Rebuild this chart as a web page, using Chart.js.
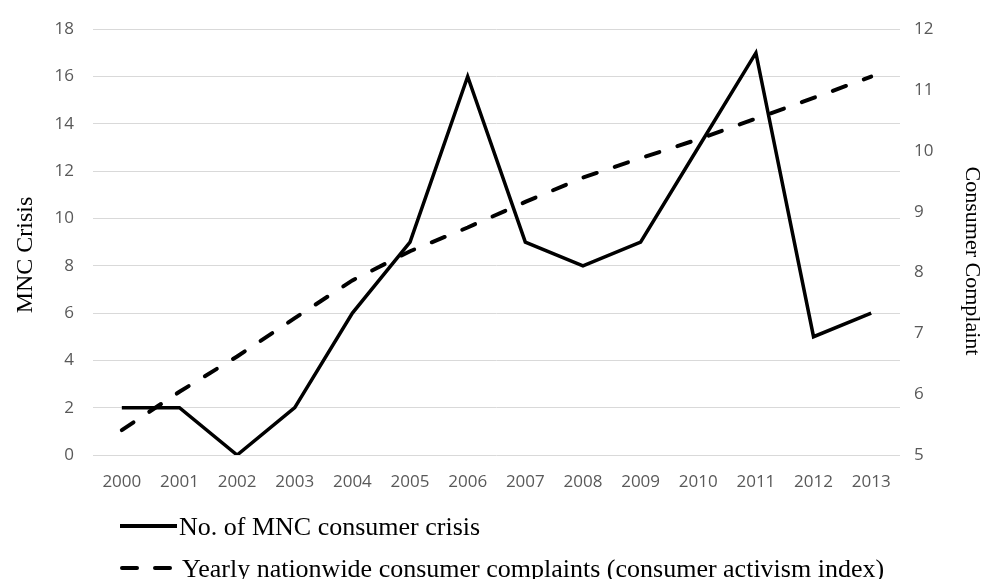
<!DOCTYPE html>
<html>
<head>
<meta charset="utf-8">
<script src="https://cdn.jsdelivr.net/npm/chart.js@4.4.1/dist/chart.umd.min.js"></script>
<style>
  html, body { margin: 0; padding: 0; background: #fff; }
  canvas { display: block; }
</style>
</head>
<body>
<canvas id="crisisChart" width="984" height="579"></canvas>
<script>
// Chart data
const years = ['2000', '2001', '2002', '2003', '2004', '2005', '2006', '2007', '2008', '2009', '2010', '2011', '2012', '2013'];
const mncCrisis = [2, 2, 0, 2, 6, 9, 16, 9, 8, 9, 13, 17, 5, 6];
const consumerComplaints = [5.41, 6.04, 6.62, 7.25, 7.87, 8.35, 8.74, 9.16, 9.56, 9.88, 10.19, 10.53, 10.87, 11.22];
const leftTicks = [0, 2, 4, 6, 8, 10, 12, 14, 16, 18];
const rightTicks = [5, 6, 7, 8, 9, 10, 11, 12];

const seriesLabels = ['No. of MNC consumer crisis', 'Yearly nationwide consumer complaints (consumer activism index)'];
const leftTitle = 'MNC Crisis';
const rightTitle = 'Consumer Complaint';

const TICK_FONT = { family: "'Open Sans', sans-serif", size: 17 };
const TICK_COLOR = '#595959';
const GRID_COLOR = '#d9d9d9';
const SERIF = '"Liberation Serif", "Times New Roman", serif';

// axis titles drawn by hand so they can sit where Excel put them
const axisTitles = {
    id: 'axisTitles',
    afterDraw(chart) {
        const ctx = chart.ctx;
        ctx.save();
        ctx.fillStyle = '#000';
        ctx.textAlign = 'center';
        ctx.textBaseline = 'alphabetic';

        ctx.save();
        ctx.font = '24px ' + SERIF;
        ctx.translate(32, 255);
        ctx.rotate(-Math.PI / 2);
        ctx.fillText(leftTitle, 0, 0);
        ctx.restore();

        ctx.save();
        ctx.font = '22px ' + SERIF;
        ctx.translate(966, 261);
        ctx.rotate(Math.PI / 2);
        ctx.fillText(rightTitle, 0, 0);
        ctx.restore();
        ctx.restore();
    }
};

// legend under the chart, one series per row
const bottomLegend = {
    id: 'bottomLegend',
    afterDraw(chart) {
        const ctx = chart.ctx;
        const rows = [526, 568];
        chart.data.datasets.forEach((ds, i) => {
            const y = rows[i];
            ctx.save();
            ctx.strokeStyle = ds.borderColor;
            ctx.lineWidth = 4;
            ctx.beginPath();
            if (ds.borderDash && ds.borderDash.length) {
                ctx.lineCap = 'round';
                ctx.setLineDash([15, 18]);
                ctx.moveTo(122, y);
                ctx.lineTo(170, y);
            } else {
                ctx.lineCap = 'butt';
                ctx.moveTo(120, y);
                ctx.lineTo(177, y);
            }
            ctx.stroke();
            ctx.setLineDash([]);
            ctx.font = '26px ' + SERIF;
            ctx.fillStyle = '#000';
            ctx.textBaseline = 'alphabetic';
            ctx.fillText(ds.label, i === 0 ? 179 : 182, y + 9);
            ctx.restore();
        });
    }
};

const ctx = document.getElementById('crisisChart').getContext('2d');
new Chart(ctx, {
    type: 'line',
    data: {
        labels: years,
        datasets: [
            {
                label: seriesLabels[0],
                data: mncCrisis,
                yAxisID: 'y',
                borderColor: '#000',
                borderWidth: 3.5,
                borderJoinStyle: 'miter',
                pointRadius: 0,
                tension: 0,
                fill: false
            },
            {
                label: seriesLabels[1],
                data: consumerComplaints,
                yAxisID: 'y1',
                borderColor: '#000',
                borderWidth: 4,
                borderDash: [14, 19],
                borderCapStyle: 'round',
                pointRadius: 0,
                tension: 0,
                fill: false
            }
        ]
    },
    options: {
        responsive: false,
        animation: false,
        devicePixelRatio: 1,
        layout: { padding: { top: 23, bottom: 80, left: 0, right: 0 } },
        plugins: {
            legend: { display: false },
            tooltip: { enabled: false }
        },
        scales: {
            x: {
                offset: true,
                grid: { display: false },
                border: { display: false },
                ticks: { font: TICK_FONT, color: TICK_COLOR, padding: 9, maxRotation: 0, autoSkip: false },
                afterFit: s => { s.height = 44; }
            },
            y: {
                position: 'left',
                min: 0,
                max: 18,
                afterBuildTicks: s => { s.ticks = leftTicks.map(v => ({ value: v })); },
                grid: { color: GRID_COLOR, lineWidth: 1, drawTicks: false },
                border: { display: false },
                ticks: { font: TICK_FONT, color: TICK_COLOR, padding: 19 },
                afterFit: s => { s.width = 93; }
            },
            y1: {
                position: 'right',
                min: 5,
                max: 12,
                afterBuildTicks: s => { s.ticks = rightTicks.map(v => ({ value: v })); },
                grid: { drawOnChartArea: false, drawTicks: false },
                border: { display: false },
                ticks: { font: TICK_FONT, color: TICK_COLOR, padding: 14 },
                afterFit: s => { s.width = 84; }
            }
        }
    },
    plugins: [axisTitles, bottomLegend]
});
</script>
</body>
</html>
